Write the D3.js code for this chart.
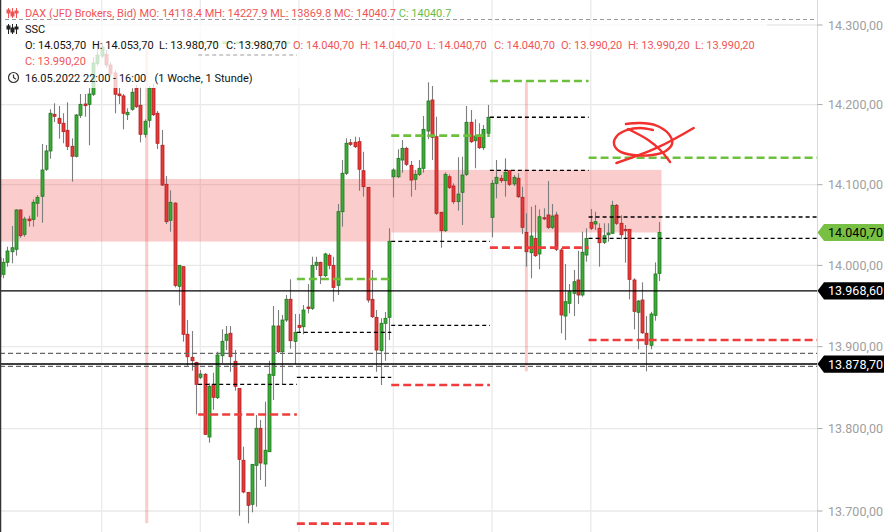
<!DOCTYPE html>
<html>
<head>
<meta charset="utf-8">
<script src="https://cdn.jsdelivr.net/npm/d3@7/dist/d3.min.js"></script>
<style>
html,body{margin:0;padding:0;background:#fff;overflow:hidden}
svg{display:block}
text{font-family:Roboto,"Liberation Sans",Arial,sans-serif;white-space:pre}
</style>
</head>
<body>
<svg id="chart" width="884" height="532"></svg>
<script>
// ---------------- DATA ----------------
const opens=[14009.5,13989.0,14003.8,14016.9,14019.9,14068.6,14038.4,14057.4,14057.0,14076.9,
14085.6,14119.2,14142.0,14187.8,14182.8,14176.6,14167.8,14147.8,14135.4,14186.6,
14200.7,14200.3,14212.9,14251.8,14261.0,14263.1,14249.6,14239.6,14213.2,14210.8,
14187.3,14194.1,14220.4,14199.1,14162.8,14180.3,14220.4,14189.1,14149.1,14100.5,
14055.8,14077.1,13974.2,13998.4,13915.2,13887.0,13880.8,13862.5,13866.2,13789.7,
13853.9,13837.6,13888.9,13907.8,13916.4,13882.1,13849.0,13761.4,13722.6,13708.1,
13755.3,13800.3,13756.9,13771.8,13864.9,13925.4,13893.8,13932.7,13958.2,13906.6,
13926.2,13924.5,13948.7,13947.1,14000.1,14003.8,13987.3,14012.5,14000.1,13975.4,
14066.5,14114.2,14152.3,14152.8,14153.6,14117.4,14096.7,13958.2,13936.0,13895.1,
13928.7,13936.0,14109.9,14109.9,14130.7,14145.3,14124.1,14106.7,14112.9,14120.4,
14166.9,14205.7,14159.8,14065.7,14042.9,14109.9,14098.4,14078.9,14090.5,14112.9,
14177.8,14154.8,14161.9,14146.1,14164.1,14059.5,14101.7,14108.0,14105.0,14117.4,
14100.9,14108.0,14084.3,14040.9,14015.7,14033.4,14014.1,14059.0,14062.4,14047.1,
14062.4,14019.0,13937.6,13953.3,13965.6,13982.0,13963.5,14012.8,14053.3,14051.2,
14045.9,14028.5,14037.9,14039.7,14074.4,14052.1,14044.6,14044.6,13982.0,13942.2,
13957.3,13916.4,13901.7,13938.5,13990.2];
const highs=[14012.8,14008.8,14023.1,14048.7,14069.4,14069.4,14060.2,14061.5,14081.8,14087.2,
14150.7,14149.4,14194.1,14201.6,14198.2,14189.1,14202.8,14157.8,14188.2,14213.2,
14213.2,14220.7,14259.7,14274.8,14277.3,14268.5,14253.4,14243.3,14220.7,14213.2,
14195.3,14220.4,14224.5,14221.6,14181.6,14223.3,14226.6,14191.9,14168.2,14110.8,
14093.0,14078.1,14000.1,13998.4,13932.7,13919.2,13881.5,13871.4,13867.7,13855.2,
13868.1,13893.8,13921.3,13925.4,13925.4,13895.9,13849.0,13777.9,13722.6,13756.5,
13816.5,13810.4,13832.7,13882.8,13949.9,13945.0,13938.9,13963.5,13982.8,13940.1,
13940.1,13951.2,13977.0,14010.7,14010.7,14004.6,14015.7,14014.9,14010.7,14076.0,
14130.7,14157.8,14157.0,14159.8,14159.1,14141.1,14096.7,13994.3,13945.0,13934.8,
13942.6,14045.9,14120.4,14144.1,14155.7,14147.3,14129.5,14118.3,14130.7,14185.7,
14227.9,14223.3,14184.8,14066.5,14115.4,14112.9,14101.7,14134.1,14134.9,14198.2,
14193.2,14181.6,14176.6,14174.4,14199.5,14105.8,14130.7,14112.0,14132.8,14118.3,
14112.0,14114.2,14097.5,14064.5,14072.7,14074.8,14069.4,14070.7,14104.6,14076.0,
14066.5,14021.5,14001.7,13977.0,13994.3,14018.1,14041.7,14045.9,14069.8,14066.5,
14052.1,14052.1,14052.1,14080.1,14076.0,14062.0,14050.0,14044.6,13984.1,13957.3,
13979.1,13937.6,13942.9,14003.8,14053.7];
const lows=[13984.4,13984.1,13998.4,14002.6,14012.0,14034.2,14035.5,14047.9,14047.9,14060.2,
14052.8,14117.0,14132.3,14178.2,14157.3,14151.6,14143.2,14103.7,14133.9,14183.2,
14184.8,14149.1,14210.8,14248.4,14258.4,14245.9,14234.5,14189.1,14200.7,14169.0,
14180.7,14192.3,14195.7,14152.8,14158.6,14171.1,14185.7,14144.4,14098.4,14051.2,
14041.7,13972.9,13950.8,13906.1,13876.7,13870.6,13817.3,13860.4,13792.1,13782.8,
13822.9,13836.0,13879.6,13895.9,13869.3,13846.1,13694.3,13721.4,13685.1,13698.4,
13705.2,13737.5,13729.4,13771.5,13834.8,13892.2,13853.9,13930.3,13897.5,13878.4,
13917.6,13915.2,13941.0,13945.0,13994.3,13977.0,13985.7,13995.2,13955.3,13963.5,
14047.9,14112.0,14148.2,14145.7,14092.5,14085.1,13954.0,13935.2,13869.3,13853.1,
13882.8,13908.2,14084.3,14108.3,14114.9,14123.3,14085.1,14093.4,14110.8,14114.9,
14156.6,14130.7,14062.4,14021.9,14041.2,14094.6,14076.0,14067.7,14050.0,14110.8,
14151.9,14120.4,14144.4,14143.2,14161.9,14034.7,14083.1,14102.1,14085.1,14098.4,
14098.4,14083.5,14038.8,13998.4,13984.1,14010.4,13995.2,14056.1,14045.0,14045.0,
14017.8,13916.4,13908.2,13941.0,13937.6,13952.4,13961.4,14004.6,14043.8,14043.8,
13998.4,14026.4,14029.3,14038.8,14050.0,14032.3,14003.3,13958.2,13921.3,13896.8,
13915.5,13869.8,13896.8,13931.9,13980.7];
const closes=[13986.0,14003.8,14017.8,14021.8,14068.6,14036.7,14057.4,14055.3,14078.1,14084.3,
14118.3,14142.0,14189.1,14185.3,14176.6,14166.1,14147.8,14135.4,14186.9,14200.3,
14198.6,14213.2,14252.1,14262.2,14272.3,14249.6,14238.3,14212.9,14211.1,14189.1,
14190.3,14215.4,14197.3,14162.8,14179.1,14220.4,14187.3,14151.6,14099.6,14054.1,
14078.1,13975.4,14000.1,13915.2,13887.7,13882.8,13853.9,13866.5,13793.0,13851.5,
13838.1,13889.8,13906.6,13915.2,13887.7,13851.5,13762.6,13723.0,13706.9,13756.5,
13800.3,13758.1,13773.6,13866.2,13925.4,13893.8,13932.7,13958.2,13907.3,13917.6,
13923.5,13945.0,13946.9,14000.1,14003.8,13987.3,14014.1,14000.1,13972.9,14066.5,
14114.2,14151.6,14150.3,14147.3,14119.2,14097.5,13957.3,13936.8,13895.9,13928.7,
13934.8,14029.8,14118.3,14132.8,14145.3,14125.4,14105.8,14112.9,14120.4,14169.0,
14204.5,14159.1,14064.5,14042.9,14112.9,14096.7,14078.9,14088.4,14112.0,14177.8,
14153.6,14160.7,14146.1,14169.0,14184.1,14101.7,14109.2,14105.0,14115.4,14100.5,
14109.2,14085.1,14047.1,14016.9,14036.3,14012.0,14060.2,14057.7,14047.1,14061.1,
14019.9,13938.9,13955.3,13967.5,13979.9,13963.5,14016.2,14033.4,14045.9,14054.1,
14028.0,14036.7,14040.1,14074.4,14052.1,14037.9,14042.9,13982.8,13943.4,13956.1,
13917.1,13902.9,13940.1,13989.4,14040.7];

const yTicks=[13700,13800,13900,14000,14100,14200,14300];
const dayStarts=[24,47,70,92,115,138];           // candle index of day gridlines

// SSC level segments (per day)
const sscStart=[46.5,69.5,91.5,114.5,137.5];
const sscEnd=[69.5,91.5,114.5,137.5,191];
const sscGreen=[14277.7,13983.2,14161.1,14229.5,14133.6];
const sscBlackA=[14262.2,13917.6,14029.8,14184.1,14059.9];
const sscBlackB=[13853.9,13862.5,13926.2,14117.9,14033.4];
const sscRed=[13817.1,13684.7,13853.1,14021.9,13908.2];

// weekly open/close zones and week range markers
const zoneStart=[-2,91.5], zoneEnd=[91.5,154.5];
const zoneTop=[14107.1,14118.4], zoneBottom=[14029.5,14040.7];
const rangeIdx=[34.5,123], rangeHigh=[14277.0,14227.9], rangeLow=[13685.4,13869.8];

const dashedLevels=[13891.9,13875.9];
const solidLevels=[13968.6,13878.7];
const tagValues=[14040.7,13968.6,13878.7];

// hand-drawn annotation (index, price)
const scribbleLoop=[[152.5,14168.2],[149.5,14170.7],[146.5,14168.2],[144.1,14160.7],[143.4,14151.9],[144.6,14142.0],[147.9,14137.0],[152.3,14137.0],[155.5,14142.0],[157.0,14151.9],[156.0,14164.4],[153.0,14174.4],[149.5,14176.9],[146.2,14175.7]];
const scribbleSlash=[[144.0,14127.0],[153.5,14146.1],[162.0,14170.7]];
const scribbleCurve=[[146.7,14169.4],[151.4,14155.7],[154.2,14143.2],[156.5,14128.2]];

const legendTitle=["DAX (JFD Brokers, Bid)","MO: 14118.4","MH: 14227.9","ML: 13869.8","MC: 14040.7"];
const legendLast="C: 14040.7";
const sscName="SSC";
const sscBlackTexts=["O: 14.053,70","H: 14.053,70","L: 13.980,70","C: 13.980,70"];
const sscRedTexts=["O: 14.040,70","H: 14.040,70","L: 14.040,70","C: 14.040,70","O: 13.990,20","H: 13.990,20","L: 13.990,20"];
const sscRedLast="C: 13.990,20";
const periodText="16.05.2022 22:00 - 16:00   (1 Woche, 1 Stunde)";

// ---------------- CHART ----------------
const W=884,H=532,plotR=817.5;
const svg=d3.select("#chart");
const x=d3.scaleLinear().domain([0,191]).range([-1.3,818.1]);
const y=d3.scaleLog().domain([13700,14300]).range([511,25]);
const loc=d3.formatLocale({decimal:",",thousands:".",grouping:[3],currency:["",""]});
const fmt=loc.format(",.2f");

const RED="#f05555", GREEN_T="#6cbd45";

svg.append("rect").attr("width",W).attr("height",H).attr("fill","#fff");
svg.append("defs").append("clipPath").attr("id","plotclip")
  .append("rect").attr("x",0).attr("y",0).attr("width",plotR).attr("height",H);

const plot=svg.append("g").attr("clip-path","url(#plotclip)");

// grid
plot.selectAll(".hg").data(yTicks).enter().append("line")
  .attr("x1",0).attr("x2",plotR).attr("y1",d=>y(d)).attr("y2",d=>y(d))
  .attr("stroke","#e8e8e8").attr("stroke-width",1.3);
plot.selectAll(".vg").data(dayStarts).enter().append("line")
  .attr("x1",d=>x(d)).attr("x2",d=>x(d)).attr("y1",0).attr("y2",H)
  .attr("stroke","#ebebeb").attr("stroke-width",1.4);

// zones
const zoneFill="rgba(242,85,85,0.3)";
zoneStart.forEach((s,i)=>{
  plot.append("rect").attr("x",x(s)).attr("width",x(zoneEnd[i])-x(s))
    .attr("y",y(zoneTop[i])).attr("height",y(zoneBottom[i])-y(zoneTop[i]))
    .attr("fill",zoneFill);
});
rangeIdx.forEach((r,i)=>{
  plot.append("rect").attr("x",x(r)-1.5).attr("width",3)
    .attr("y",y(rangeHigh[i])).attr("height",y(rangeLow[i])-y(rangeHigh[i]))
    .attr("fill",zoneFill);
});

// candles
const idx=d3.range(opens.length);
const cg=plot.append("g");
idx.forEach(i=>{
  const xc=Math.round(x(i));
  const up=closes[i]>=opens[i];
  cg.append("line").attr("x1",xc+0.5).attr("x2",xc+0.5)
    .attr("y1",y(highs[i])).attr("y2",y(lows[i]))
    .attr("stroke","#7d7d7d").attr("stroke-width",1.1);
  const t=y(Math.max(opens[i],closes[i])), b=y(Math.min(opens[i],closes[i]));
  cg.append("rect").attr("x",xc-1).attr("width",3)
    .attr("y",t).attr("height",Math.max(b-t,1.2))
    .attr("fill",up?"#3ea83a":"#e23b3b")
    .attr("stroke",up?"#1e7a1e":"#b32020").attr("stroke-width",0.8);
});

// full-width levels
plot.selectAll(".dl").data(dashedLevels).enter().append("line")
  .attr("x1",0).attr("x2",plotR).attr("y1",d=>y(d)).attr("y2",d=>y(d))
  .attr("stroke","#666").attr("stroke-width",1.2).attr("stroke-dasharray","5,3");
plot.selectAll(".sl").data(solidLevels).enter().append("line")
  .attr("x1",0).attr("x2",plotR).attr("y1",d=>y(d)).attr("y2",d=>y(d))
  .attr("stroke","#000").attr("stroke-width",1.4);

// SSC segments
function seg(vals,color,w,dash){
  vals.forEach((v,i)=>{
    plot.append("line").attr("x1",x(sscStart[i])).attr("x2",x(sscEnd[i]))
      .attr("y1",y(v)).attr("y2",y(v))
      .attr("stroke",color).attr("stroke-width",w).attr("stroke-dasharray",dash);
  });
}
seg(sscBlackA,"#000",1.3,"4,3");
seg(sscBlackB,"#000",1.3,"4,3");
seg(sscGreen,"#6cc03c",2.6,"8,4");
seg(sscRed,"#f03c3c",2.6,"8,4");

// legend veil
svg.append("rect").attr("x",0).attr("y",21).attr("width",767).attr("height",30).attr("fill","#fff").attr("opacity",0.75);
svg.append("rect").attr("x",0).attr("y",51).attr("width",300).attr("height",37).attr("fill","#fff").attr("opacity",0.75);

// scribble
const sl=d3.line().x(d=>x(d[0])).y(d=>y(d[1])).curve(d3.curveCatmullRom);
[scribbleLoop,scribbleSlash,scribbleCurve].forEach(pts=>{
  svg.append("path").attr("d",sl(pts)).attr("fill","none")
    .attr("stroke","#f2302e").attr("stroke-width",2.4)
    .attr("stroke-linecap","round").attr("stroke-linejoin","round");
});

// left border
svg.append("line").attr("x1",0.6).attr("x2",0.6).attr("y1",0).attr("y2",H).attr("stroke","#333").attr("stroke-width",1.3);

// legend separator
svg.append("line").attr("x1",5).attr("x2",plotR).attr("y1",19.5).attr("y2",19.5)
  .attr("stroke","#9a9a9a").attr("stroke-width",1).attr("stroke-dasharray","4,3");

// icons
function indIcon(x0,y0,color){
  const g=svg.append("g").attr("stroke",color).attr("fill",color).attr("stroke-width",1);
  [[0,0,3],[4,2,4],[8,1,2]].forEach(([dx,by,bh])=>{
    g.append("line").attr("x1",x0+dx+0.5).attr("x2",x0+dx+0.5).attr("y1",y0).attr("y2",y0+10);
    g.append("rect").attr("x",x0+dx-1).attr("y",y0+by+2).attr("width",3).attr("height",bh);
  });
}
indIcon(8,8,RED);
indIcon(8,24,"#222");
const clk=svg.append("g").attr("fill","none").attr("stroke","#333").attr("stroke-width",1.2);
clk.append("circle").attr("cx",13.5).attr("cy",77.5).attr("r",5);
clk.append("path").attr("d","M13.5,74.5 V77.5 L15.8,79.3");

// legend text
const fs=11;
const t1=svg.append("text").attr("x",25).attr("y",17.3).attr("font-size",fs);
t1.append("tspan").attr("fill",RED).text(legendTitle.join(" ")+" ");
t1.append("tspan").attr("fill",GREEN_T).text(legendLast);
svg.append("text").attr("x",25).attr("y",33.3).attr("font-size",fs).attr("fill","#111").text(sscName);
const row3=sscBlackTexts.map(t=>({t,c:"#111"})).concat(sscRedTexts.map(t=>({t,c:RED})));
row3.forEach((d,k)=>{
  svg.append("text").attr("x",25+k*67).attr("y",49).attr("font-size",fs).attr("fill",d.c).text(d.t);
});
svg.append("text").attr("x",25).attr("y",65).attr("font-size",fs).attr("fill",RED).text(sscRedLast);
svg.append("text").attr("x",25).attr("y",81.7).attr("font-size",fs).attr("fill","#111").text(periodText);

// right axis
svg.append("line").attr("x1",plotR).attr("x2",plotR).attr("y1",0).attr("y2",H).attr("stroke","#d8d8d8").attr("stroke-width",1);
const ax=svg.append("g");
yTicks.forEach(v=>{
  ax.append("line").attr("x1",plotR).attr("x2",plotR+5).attr("y1",y(v)).attr("y2",y(v)).attr("stroke","#aaa");
  ax.append("text").attr("x",828).attr("y",y(v)).attr("dy","0.36em")
    .attr("font-size",12.5).attr("fill","#a0a0a0").text(fmt(v));
});

// price tags
tagValues.forEach((v,i)=>{
  const yy=y(v), h=8.6;
  const bg=i===0?"#78c043":"#000", fg=i===0?"#000":"#fff";
  svg.append("path").attr("d",`M${plotR},${yy} L${plotR+6.5},${yy-h} H${W} V${yy+h} H${plotR+6.5} Z`).attr("fill",bg);
  svg.append("text").attr("x",828).attr("y",yy).attr("dy","0.36em")
    .attr("font-size",12.5).attr("fill",fg).text(fmt(v));
});
</script>
</body>
</html>
